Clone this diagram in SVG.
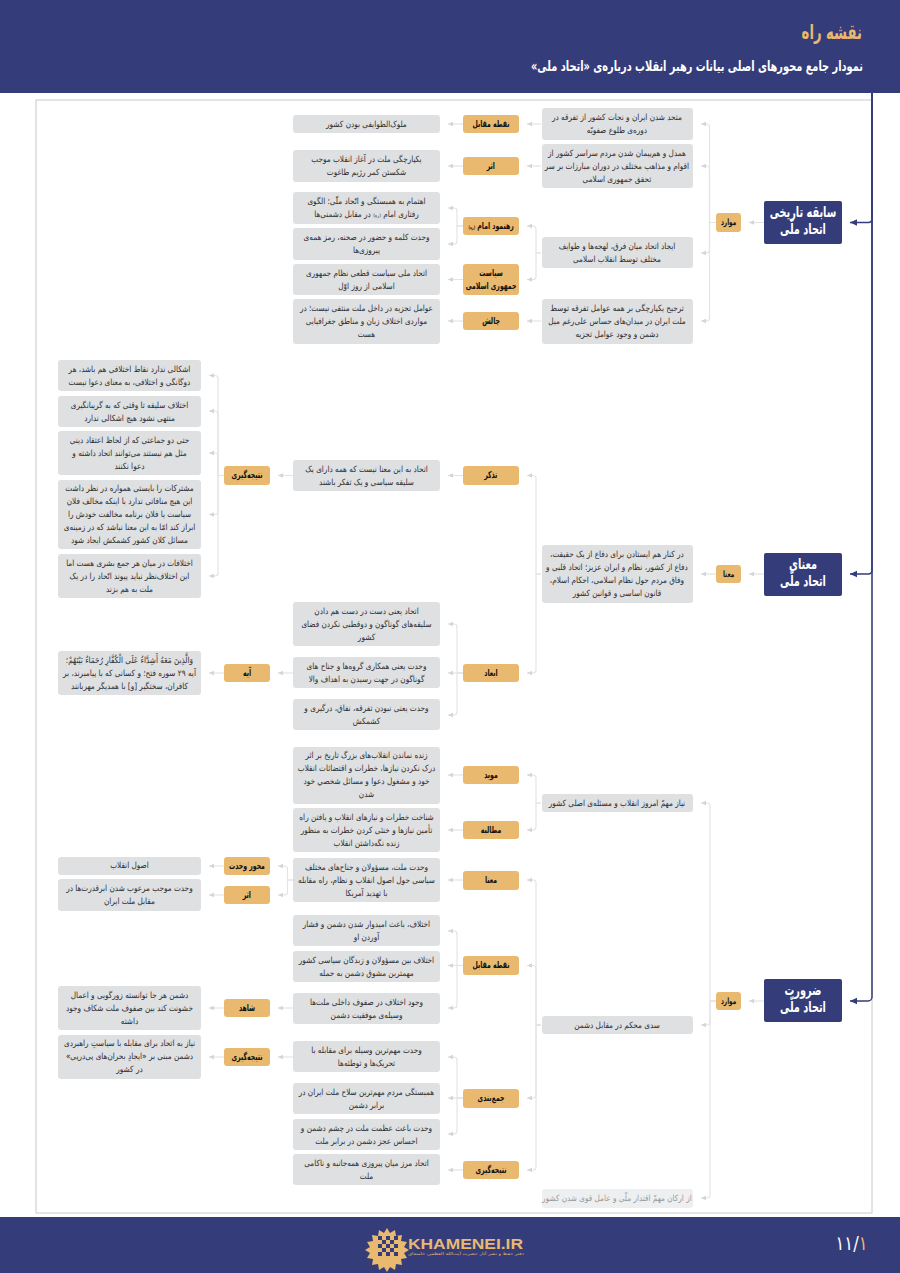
<svg xmlns="http://www.w3.org/2000/svg" width="900" height="1273" viewBox="0 0 900 1273">
<style>
text{font-family:"DejaVu Sans","Noto Sans",sans-serif;direction:rtl;text-anchor:middle}
.bx{fill:#dfe0e2}.gd{fill:#e8b96f}.rt{fill:#343c7a}
rect.bx,rect.gd{rx:3px}
.bt,.gt,.rtt,.tt,.st,.pn{transform-box:fill-box;transform-origin:center}
.bt{font-size:8.5px;fill:#2e2e30;transform:scaleX(.86)}
.gt{font-size:9.5px;font-weight:bold;fill:#111;transform:scaleX(.65)}
.gs{font-size:8.8px}
.rtt{font-size:15px;font-weight:bold;fill:#fff;transform:scaleX(.65)}
.tt{text-anchor:start;font-size:20px;font-weight:bold;fill:#e8b96f;transform-origin:100% 50%;transform:scaleX(.66)}
.st{text-anchor:start;font-size:14px;font-weight:bold;fill:#fff;transform-origin:100% 50%;transform:scaleX(.7)}
.pn{direction:ltr;font-size:20px;fill:#fff;transform:scaleX(.82)}
.c{fill:none;stroke:#e3e4e6;stroke-width:1.2;marker-end:url(#a)}
.n{fill:none;stroke:#343c7a;stroke-width:1.5;marker-end:url(#an)}
</style>
<defs>
<marker id="a" markerUnits="userSpaceOnUse" markerWidth="6" markerHeight="6" refX="5" refY="3" orient="auto"><path d="M0 .8L5 3L0 5.2z" fill="#d4d5d8"/></marker>
<marker id="an" markerUnits="userSpaceOnUse" markerWidth="8" markerHeight="8" refX="7" refY="4" orient="auto"><path d="M0 .8L7 4L0 7.2z" fill="#343c7a"/></marker>
</defs>
<rect width="900" height="1273" fill="#fff"/>
<rect id="page-frame" x="36" y="100" width="836" height="1113" fill="#fff" stroke="#c9cacc" stroke-width="1"/>
<g id="header"><rect width="900" height="93" fill="#343c7a"/>
<text class="tt" x="862" y="39">نقشه راه</text>
<text class="st" x="863" y="71">نمودار جامع محورهای اصلی بیانات رهبر انقلاب درباره‌ی «اتحاد ملی»</text></g>
<g id="footer"><rect y="1217" width="900" height="56" fill="#343c7a"/>
<g id="logo" fill="#e8b96f"><path d="M387 1228l3 5 5-3 1 6 6-1-1 6 6 1-3 5 5 3-5 3 3 5-6 1 1 6-6-1-1 6-5-3-3 5-3-5-5 3-1-6-6 1 1-6-6-1 3-5-5-3 5-3-3-5 6-1-1-6 6 1 1-6 5 3z"/>
<g fill="#343c7a"><rect x="378" y="1236" width="4" height="4"/><rect x="386" y="1236" width="4" height="4"/><rect x="394" y="1236" width="4" height="4"/><rect x="382" y="1240" width="4" height="4"/><rect x="390" y="1240" width="4" height="4"/><rect x="378" y="1244" width="4" height="4"/><rect x="386" y="1244" width="4" height="4"/><rect x="394" y="1244" width="4" height="4"/><rect x="382" y="1248" width="4" height="4"/><rect x="390" y="1248" width="4" height="4"/><rect x="378" y="1252" width="4" height="4"/><rect x="386" y="1252" width="4" height="4"/><rect x="394" y="1252" width="4" height="4"/></g>
<text x="465.500" y="1248.500" textLength="115" lengthAdjust="spacingAndGlyphs" style="direction:ltr;font-family:'Liberation Sans',sans-serif;font-size:14px;font-weight:bold;fill:#e8b96f">KHAMENEI.IR</text>
<text x="466" y="1254.500" textLength="116" lengthAdjust="spacingAndGlyphs" style="font-size:4px;fill:#e8b96f">دفتر حفظ و نشر آثار حضرت آیت‌الله العظمی خامنه‌ای</text></g>
<text class="pn" x="851.500" y="1250">۱۱/<tspan fill="#e8b96f">۱</tspan></text></g>

<g id="connectors">
<path class="n" d="M872 93V219a3.500 3.500 0 0 1-3.500 3.500H850"/>
<path class="n" d="M872 93V570.500a3.500 3.500 0 0 1-3.500 3.500H850"/>
<path class="n" d="M872 93V997a4 4 0 0 1-4 4H850"/>

<path class="c" d="M764 222.500H749"/><path class="c" d="M764 574H749"/><path class="c" d="M764 1001H749"/>
<path class="c" d="M716 222.500H709.500V127a3 3 0 0 0-3-3H701"/>
<path class="c" d="M716 222.500H709.500V169a3 3 0 0 0-3-3H701"/>
<path class="c" d="M716 222.500H709.500V250a3 3 0 0 1-3 3H701"/>
<path class="c" d="M716 222.500H709.500V318a3 3 0 0 1-3 3H701"/>
<path class="c" d="M541 124H527"/><path class="c" d="M463 124H448"/>
<path class="c" d="M541 166H527"/><path class="c" d="M463 166H448"/>
<path class="c" d="M541 253H536V229a3 3 0 0 0-3-3H527"/><path class="c" d="M541 253H536V276.500a3 3 0 0 1-3 3H527"/>
<path class="c" d="M463 226H457V211a3 3 0 0 0-3-3H448"/><path class="c" d="M463 226H457V241a3 3 0 0 1-3 3H448"/>
<path class="c" d="M463 279.500H448"/>
<path class="c" d="M541 321H527"/><path class="c" d="M463 321H448"/>

<path class="c" d="M716 574H701"/>
<path class="c" d="M541 574H536V478.500a3 3 0 0 0-3-3H527"/><path class="c" d="M541 574H536V670a3 3 0 0 1-3 3H527"/>
<path class="c" d="M463 475.500H448"/><path class="c" d="M293 475.500H278"/>
<path class="c" d="M224 475.500H218V378.500a3 3 0 0 0-3-3H209"/><path class="c" d="M224 475.500H218V414a3 3 0 0 0-3-3H209"/><path class="c" d="M224 475.500H218V456a3 3 0 0 0-3-3H209"/><path class="c" d="M224 475.500H218V511.500a3 3 0 0 1-3 3H209"/><path class="c" d="M224 475.500H218V573a3 3 0 0 1-3 3H209"/>
<path class="c" d="M463 673H457V627a3 3 0 0 0-3-3H448"/><path class="c" d="M463 673H448"/><path class="c" d="M463 673H457V712a3 3 0 0 1-3 3H448"/>
<path class="c" d="M293 673H278"/><path class="c" d="M224 673H209"/>

<path class="c" d="M716 1001H710V806a3 3 0 0 0-3-3H701"/><path class="c" d="M716 1001H710V1022a3 3 0 0 1-3 3H701"/><path class="c" d="M716 1001H710V1195a3 3 0 0 1-3 3H701"/>
<path class="c" d="M541 803H536V778a3 3 0 0 0-3-3H527"/><path class="c" d="M541 803H536V827a3 3 0 0 1-3 3H527"/>
<path class="c" d="M463 775H448"/><path class="c" d="M463 830H448"/><path class="c" d="M463 880H448"/>
<path class="c" d="M293 880H287.500V869a3 3 0 0 0-3-3H278"/><path class="c" d="M293 880H287.500V892a3 3 0 0 1-3 3H278"/>
<path class="c" d="M224 866H209"/><path class="c" d="M224 895H209"/>
<path class="c" d="M541 1025H536V883a3 3 0 0 0-3-3H527"/><path class="c" d="M541 1025H536V968.500a3 3 0 0 0-3-3H527"/><path class="c" d="M541 1025H536V1095a3 3 0 0 1-3 3H527"/><path class="c" d="M541 1025H536V1167a3 3 0 0 1-3 3H527"/>
<path class="c" d="M463 965.500H457V934a3 3 0 0 0-3-3H448"/><path class="c" d="M463 965.500H448"/><path class="c" d="M463 965.500H457V1005a3 3 0 0 1-3 3H448"/>
<path class="c" d="M293 1008H278"/><path class="c" d="M224 1008H209"/>
<path class="c" d="M293 1057H278"/><path class="c" d="M224 1057H209"/>
<path class="c" d="M463 1098H457V1060a3 3 0 0 0-3-3H448"/><path class="c" d="M463 1098H448"/><path class="c" d="M463 1098H457V1131a3 3 0 0 1-3 3H448"/>
<path class="c" d="M463 1170H448"/>
</g>

<g id="root1"><rect class="rt" x="764" y="201" width="78" height="43" rx="2"/><text class="rtt" x="803" y="217.500">سابقه تاریخی<tspan x="803" dy="17">اتحاد ملّی</tspan></text></g>
<g id="root2"><rect class="rt" x="764" y="553" width="78" height="43" rx="2"/><text class="rtt" x="803" y="569.500">معنای<tspan x="803" dy="17">اتحاد ملّی</tspan></text></g>
<g id="root3"><rect class="rt" x="764" y="979" width="78" height="43" rx="2"/><text class="rtt" x="803" y="995.500">ضرورت<tspan x="803" dy="17">اتحاد ملّی</tspan></text></g>

<g id="g1"><rect class="gd" x="716" y="213" width="25" height="19"/><text class="gt gs" x="728.500" y="225.500">موارد</text></g>
<g id="g2"><rect class="gd" x="716" y="565" width="25" height="18"/><text class="gt gs" x="728.500" y="577">معنا</text></g>
<g id="g3"><rect class="gd" x="716" y="992" width="25" height="18"/><text class="gt gs" x="728.500" y="1004">موارد</text></g>

<g id="b1"><rect class="bx" x="542" y="108" width="151" height="32"/><text class="bt" x="617" y="120.500">متحد شدن ایران و نجات کشور از تفرقه در<tspan x="617" dy="13">دوره‌ی طلوع صفویّه</tspan></text></g>
<g id="b2"><rect class="bx" x="542" y="144" width="151" height="44"/><text class="bt" x="617" y="156">همدل و هم‌پیمان شدن مردم سراسر کشور از<tspan x="617" dy="13">اقوام و مذاهب مختلف در دوران مبارزات بر سر</tspan><tspan x="617" dy="13">تحقق جمهوری اسلامی</tspan></text></g>
<g id="b3"><rect class="bx" x="542" y="237" width="151" height="31"/><text class="bt" x="617" y="249.500">ایجاد اتحاد میان فرق، لهجه‌ها و طوایف<tspan x="617" dy="13">مختلف توسط انقلاب اسلامی</tspan></text></g>
<g id="b4"><rect class="bx" x="542" y="299" width="151" height="45"/><text class="bt" x="617" y="311">ترجیح یکپارچگی بر همه عوامل تفرقه توسط<tspan x="617" dy="13">ملت ایران در میدان‌های حساس علی‌رغم میل</tspan><tspan x="617" dy="13">دشمن و وجود عوامل تجزیه</tspan></text></g>

<g id="d1"><rect class="gd" x="463" y="115" width="56" height="18"/><text class="gt" x="491" y="127">نقطه مقابل</text></g>
<g id="d2"><rect class="gd" x="463" y="157" width="56" height="18"/><text class="gt" x="491" y="169">اثر</text></g>
<g id="d3"><rect class="gd" x="463" y="217" width="56" height="18"/><text class="gt" x="491" y="229">رهنمود امام <tspan font-size="5">(ره)</tspan></text></g>
<g id="d4"><rect class="gd" x="463" y="264" width="56" height="31"/><text class="gt" x="491" y="276">سیاست<tspan x="491" dy="13">جمهوری اسلامی</tspan></text></g>
<g id="d5"><rect class="gd" x="463" y="312" width="56" height="18"/><text class="gt" x="491" y="324">چالش</text></g>

<g id="a1"><rect class="bx" x="293" y="115" width="147" height="18"/><text class="bt" x="366.500" y="127">ملوک‌الطوایفی بودن کشور</text></g>
<g id="a2"><rect class="bx" x="293" y="150" width="147" height="32"/><text class="bt" x="366.500" y="162.500">یکپارچگی ملت در آغاز انقلاب موجب<tspan x="366.500" dy="13">شکستن کمر رژیم طاغوت</tspan></text></g>
<g id="a3"><rect class="bx" x="293" y="192" width="147" height="32"/><text class="bt" x="366.500" y="204.500">اهتمام به همبستگی و اتّحاد ملّی؛ الگوی<tspan x="366.500" dy="13">رفتاری امام <tspan font-size="5">(ره)</tspan> در مقابل دشمنی‌ها</tspan></text></g>
<g id="a4"><rect class="bx" x="293" y="228" width="147" height="32"/><text class="bt" x="366.500" y="240.500">وحدت کلمه و حضور در صحنه، رمز همه‌ی<tspan x="366.500" dy="13">پیروزی‌ها</tspan></text></g>
<g id="a5"><rect class="bx" x="293" y="264" width="147" height="31"/><text class="bt" x="366.500" y="276">اتحاد ملی سیاست قطعی نظام جمهوری<tspan x="366.500" dy="13">اسلامی از روز اوّل</tspan></text></g>
<g id="a6"><rect class="bx" x="293" y="299" width="147" height="45"/><text class="bt" x="366.500" y="311">عوامل تجزیه در داخل ملت منتفی نیست؛ در<tspan x="366.500" dy="13">مواردی اختلاف زبان و مناطق جغرافیایی</tspan><tspan x="366.500" dy="13">هست</tspan></text></g>

<g id="b5"><rect class="bx" x="542" y="545" width="151" height="58"/><text class="bt" x="617" y="557.500">در کنار هم ایستادن برای دفاع از یک حقیقت،<tspan x="617" dy="13">دفاع از کشور، نظام و ایران عزیز؛ اتحاد قلبی و</tspan><tspan x="617" dy="13">وفاق مردم حول نظام اسلامی، احکام اسلام،</tspan><tspan x="617" dy="13">قانون اساسی و قوانین کشور</tspan></text></g>
<g id="d6"><rect class="gd" x="463" y="466" width="56" height="19"/><text class="gt" x="491" y="478.500">تذکر</text></g>
<g id="d7"><rect class="gd" x="463" y="664" width="56" height="18"/><text class="gt" x="491" y="676">ابعاد</text></g>
<g id="a7"><rect class="bx" x="293" y="460" width="147" height="31"/><text class="bt" x="366.500" y="472">اتحاد به این معنا نیست که همه دارای یک<tspan x="366.500" dy="13">سلیقه سیاسی و یک تفکر باشند</tspan></text></g>
<g id="a8"><rect class="bx" x="293" y="602" width="147" height="44"/><text class="bt" x="366.500" y="614">اتحاد یعنی دست در دست هم دادن<tspan x="366.500" dy="13">سلیقه‌های گوناگون و دوقطبی نکردن فضای</tspan><tspan x="366.500" dy="13">کشور</tspan></text></g>
<g id="a9"><rect class="bx" x="293" y="657" width="147" height="31"/><text class="bt" x="366.500" y="669">وحدت یعنی همکاری گروه‌ها و جناح های<tspan x="366.500" dy="13">گوناگون در جهت رسیدن به اهداف والا</tspan></text></g>
<g id="a10"><rect class="bx" x="293" y="699" width="147" height="31"/><text class="bt" x="366.500" y="711">وحدت یعنی نبودن تفرقه، نفاق، درگیری و<tspan x="366.500" dy="13">کشمکش</tspan></text></g>
<g id="e1"><rect class="gd" x="224" y="466" width="46" height="19"/><text class="gt" x="247" y="478.500">نتیجه‌گیری</text></g>
<g id="e2"><rect class="gd" x="224" y="664" width="46" height="18"/><text class="gt" x="247" y="676">آیه</text></g>
<g id="c1"><rect class="bx" x="58" y="360" width="143" height="31"/><text class="bt" x="129.500" y="372">اشکالی ندارد نقاط اختلافی هم باشد، هر<tspan x="129.500" dy="13">دوگانگی و اختلافی، به معنای دعوا نیست</tspan></text></g>
<g id="c2"><rect class="bx" x="58" y="396" width="143" height="31"/><text class="bt" x="129.500" y="408">اختلاف سلیقه تا وقتی که به گریبانگیری<tspan x="129.500" dy="13">منتهی نشود هیچ اشکالی ندارد</tspan></text></g>
<g id="c3"><rect class="bx" x="58" y="431" width="143" height="44"/><text class="bt" x="129.500" y="443">حتی دو جماعتی که از لحاظ اعتقاد دینی<tspan x="129.500" dy="13">مثل هم نیستند می‌توانند اتحاد داشته و</tspan><tspan x="129.500" dy="13">دعوا نکنند</tspan></text></g>
<g id="c4"><rect class="bx" x="58" y="480" width="143" height="69"/><text class="bt" x="129.500" y="491.500">مشترکات را بایستی همواره در نظر داشت<tspan x="129.500" dy="13">این هیچ منافاتی ندارد با اینکه مخالف فلان</tspan><tspan x="129.500" dy="13">سیاست یا فلان برنامه مخالفت خودش را</tspan><tspan x="129.500" dy="13">ابراز کند امّا به این معنا نباشد که در زمینه‌ی</tspan><tspan x="129.500" dy="13">مسائل کلان کشور کشمکش ایجاد شود</tspan></text></g>
<g id="c5"><rect class="bx" x="58" y="554" width="143" height="44"/><text class="bt" x="129.500" y="566">اختلافات در میان هر جمع بشری هست اما<tspan x="129.500" dy="13">این اختلاف‌نظر نباید پیوند اتّحاد را در یک</tspan><tspan x="129.500" dy="13">ملت به هم بزند</tspan></text></g>
<g id="c6"><rect class="bx" x="58" y="651" width="143" height="44"/><text class="bt" x="129.500" y="663">وَالَّذِينَ مَعَهُ أَشِدَّاءُ عَلَى الْكُفَّارِ رُحَمَاءُ بَيْنَهُمْ؛<tspan x="129.500" dy="13">آیه ۲۹ سوره فتح؛ و کسانی که با پیامبرند، بر</tspan><tspan x="129.500" dy="13">کافران، سختگیر [و] با همدیگر مهربانند</tspan></text></g>

<g id="b6"><rect class="bx" x="542" y="794" width="151" height="18"/><text class="bt" x="617" y="806">نیاز مهمّ امروز انقلاب و مسئله‌ی اصلی کشور</text></g>
<g id="b7"><rect class="bx" x="542" y="1016" width="151" height="18"/><text class="bt" x="617" y="1028">سدی محکم در مقابل دشمن</text></g>
<g id="b8" opacity="0.5"><rect class="bx" x="542" y="1189" width="151" height="19"/><text class="bt" x="617" y="1201">از ارکان مهمّ اقتدار ملّی و عامل قوی شدن کشور</text></g>
<g id="d8"><rect class="gd" x="463" y="766" width="56" height="18"/><text class="gt" x="491" y="778">موید</text></g>
<g id="d9"><rect class="gd" x="463" y="821" width="56" height="18"/><text class="gt" x="491" y="833">مطالبه</text></g>
<g id="d10"><rect class="gd" x="463" y="871" width="56" height="19"/><text class="gt" x="491" y="883">معنا</text></g>
<g id="d11"><rect class="gd" x="463" y="956" width="56" height="19"/><text class="gt" x="491" y="968.500">نقطه مقابل</text></g>
<g id="d12"><rect class="gd" x="463" y="1089" width="56" height="19"/><text class="gt" x="491" y="1101">جمع‌بندی</text></g>
<g id="d13"><rect class="gd" x="463" y="1161" width="56" height="18"/><text class="gt" x="491" y="1173">نتیجه‌گیری</text></g>
<g id="a11"><rect class="bx" x="293" y="747" width="147" height="57"/><text class="bt" x="366.500" y="758.500">زنده نماندن انقلاب‌های بزرگ تاریخ بر اثر<tspan x="366.500" dy="13">درک نکردن نیازها، خطرات و اقتضائات انقلاب</tspan><tspan x="366.500" dy="13">خود و مشغول دعوا و مسائل شخصي خود</tspan><tspan x="366.500" dy="13">شدن</tspan></text></g>
<g id="a12"><rect class="bx" x="293" y="808" width="147" height="44"/><text class="bt" x="366.500" y="820">شناخت خطرات و نیازهای انقلاب و یافتن راه<tspan x="366.500" dy="13">تأمین نیازها و خنثی کردن خطرات به منظور</tspan><tspan x="366.500" dy="13">زنده نگه‌داشتن انقلاب</tspan></text></g>
<g id="a13"><rect class="bx" x="293" y="858" width="147" height="44"/><text class="bt" x="366.500" y="870">وحدت ملت، مسؤولان و جناح‌های مختلف<tspan x="366.500" dy="13">سیاسی حول اصول انقلاب و نظام، راه مقابله</tspan><tspan x="366.500" dy="13">با تهدید آمریکا</tspan></text></g>
<g id="a14"><rect class="bx" x="293" y="915" width="147" height="31"/><text class="bt" x="366.500" y="927">اختلاف، باعث امیدوار شدن دشمن و فشار<tspan x="366.500" dy="13">آوردن او</tspan></text></g>
<g id="a15"><rect class="bx" x="293" y="951" width="147" height="31"/><text class="bt" x="366.500" y="963">اختلاف بین مسؤولان و زبدگان سیاسی کشور<tspan x="366.500" dy="13">مهمترین مشوق دشمن به حمله</tspan></text></g>
<g id="a16"><rect class="bx" x="293" y="993" width="147" height="31"/><text class="bt" x="366.500" y="1005">وجود اختلاف در صفوف داخلی ملت‌ها<tspan x="366.500" dy="13">وسیله‌ی موفقیت دشمن</tspan></text></g>
<g id="a17"><rect class="bx" x="293" y="1041" width="147" height="31"/><text class="bt" x="366.500" y="1053">وحدت مهم‌ترین وسیله برای مقابله با<tspan x="366.500" dy="13">تحریک‌ها و توطئه‌ها</tspan></text></g>
<g id="a18"><rect class="bx" x="293" y="1083" width="147" height="31"/><text class="bt" x="366.500" y="1095">همبستگی مردم مهم‌ترین سلاح ملت ایران در<tspan x="366.500" dy="13">برابر دشمن</tspan></text></g>
<g id="a19"><rect class="bx" x="293" y="1119" width="147" height="31"/><text class="bt" x="366.500" y="1131">وحدت باعث عظمت ملت در چشم دشمن و<tspan x="366.500" dy="13">احساس عجز دشمن در برابر ملت</tspan></text></g>
<g id="a20"><rect class="bx" x="293" y="1154" width="147" height="31"/><text class="bt" x="366.500" y="1166">اتحاد مرز میان پیروزی همه‌جانبه و ناکامی<tspan x="366.500" dy="13">ملت</tspan></text></g>
<g id="e3"><rect class="gd" x="224" y="857" width="46" height="18"/><text class="gt" x="247" y="869">محور وحدت</text></g>
<g id="e4"><rect class="gd" x="224" y="886" width="46" height="18"/><text class="gt" x="247" y="898">اثر</text></g>
<g id="e5"><rect class="gd" x="224" y="999" width="46" height="18"/><text class="gt" x="247" y="1011">شاهد</text></g>
<g id="e6"><rect class="gd" x="224" y="1048" width="46" height="18"/><text class="gt" x="247" y="1060">نتیجه‌گیری</text></g>
<g id="c7"><rect class="bx" x="58" y="857" width="143" height="18"/><text class="bt" x="129.500" y="868">اصول انقلاب</text></g>
<g id="c8"><rect class="bx" x="58" y="879" width="143" height="32"/><text class="bt" x="129.500" y="891">وحدت موجب مرعوب شدن ابرقدرت‌ها در<tspan x="129.500" dy="13">مقابل ملت ایران</tspan></text></g>
<g id="c9"><rect class="bx" x="58" y="986" width="143" height="44"/><text class="bt" x="129.500" y="998">دشمن هر جا توانسته زورگویی و اعمال<tspan x="129.500" dy="13">خشونت کند بین صفوف ملت شکاف وجود</tspan><tspan x="129.500" dy="13">داشته</tspan></text></g>
<g id="c10"><rect class="bx" x="58" y="1035" width="143" height="44"/><text class="bt" x="129.500" y="1046.500">نیاز به اتحاد برای مقابله با سیاستِ راهبردی<tspan x="129.500" dy="13">دشمن مبنی بر «ایجادِ بحران‌های پی‌درپی»</tspan><tspan x="129.500" dy="13">در کشور</tspan></text></g>
</svg>
